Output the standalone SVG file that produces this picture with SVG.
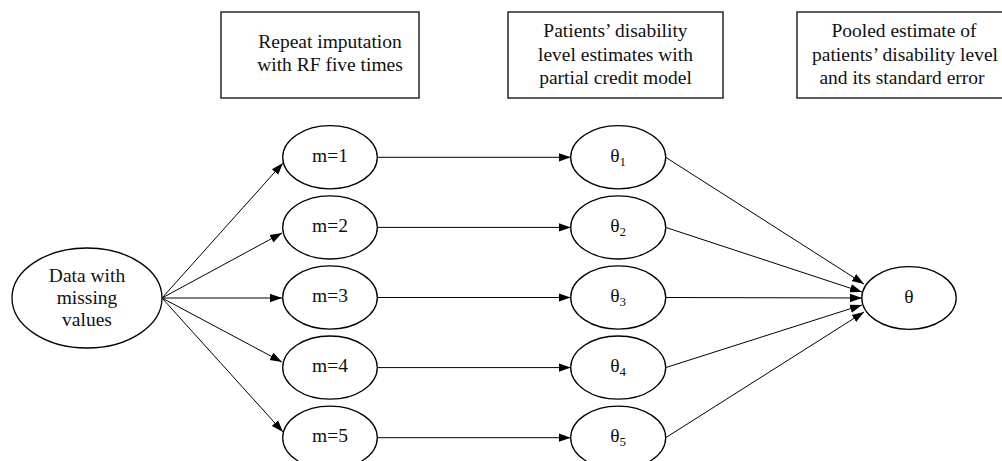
<svg xmlns="http://www.w3.org/2000/svg" width="1002" height="461" viewBox="0 0 1002 461">
<style>
.box{fill:#fff;stroke:#333;stroke-width:1.6}
.node{fill:#fff;stroke:#000;stroke-width:1.3}
.t{font-family:"Liberation Serif","Times New Roman",serif;font-size:19.5px;fill:#111;text-anchor:middle}
.sub{font-size:13px}
.edge{fill:none;stroke:#000;stroke-width:1}
</style>
<defs>
<marker id="ah" markerUnits="userSpaceOnUse" markerWidth="13" markerHeight="10" refX="12" refY="5" orient="auto">
<path d="M0,0.8 L12,5 L0,9.2 z" fill="#000"/>
</marker>
</defs>
<rect width="1002" height="461" fill="#fff"/>
<g id="header1"><rect class="box" x="221" y="12" width="198" height="86"/>
<text class="t" x="330" y="48">Repeat imputation</text><text class="t" x="330" y="71">with RF five times</text></g>
<g id="header2"><rect class="box" x="508" y="12" width="215" height="86"/>
<text class="t" x="615.5" y="37">Patients’ disability</text><text class="t" x="615.5" y="60.5">level estimates with</text><text class="t" x="615.5" y="84">partial credit model</text></g>
<g id="header3"><rect class="box" x="797" y="12" width="215" height="86"/>
<text class="t" x="904" y="37">Pooled estimate of</text><text class="t" x="905" y="60.5">patients’ disability level</text><text class="t" x="902" y="84">and its standard error</text></g>
<g id="connectors">
<line class="edge" x1="162" y1="298" x2="283" y2="163" marker-end="url(#ah)"/>
<line class="edge" x1="162" y1="298" x2="282" y2="233" marker-end="url(#ah)"/>
<line class="edge" x1="162" y1="298" x2="282" y2="298" marker-end="url(#ah)"/>
<line class="edge" x1="162" y1="298" x2="282" y2="362" marker-end="url(#ah)"/>
<line class="edge" x1="162" y1="298" x2="283" y2="432" marker-end="url(#ah)"/>
<line class="edge" x1="377.3" y1="157.3" x2="570.7" y2="157.3" marker-end="url(#ah)"/>
<line class="edge" x1="377.3" y1="227.4" x2="570.7" y2="227.4" marker-end="url(#ah)"/>
<line class="edge" x1="377.3" y1="297.5" x2="570.7" y2="297.5" marker-end="url(#ah)"/>
<line class="edge" x1="377.3" y1="367.6" x2="570.7" y2="367.6" marker-end="url(#ah)"/>
<line class="edge" x1="377.3" y1="437.7" x2="570.7" y2="437.7" marker-end="url(#ah)"/>
<line class="edge" x1="665.7" y1="157.3" x2="864" y2="284" marker-end="url(#ah)"/>
<line class="edge" x1="665.7" y1="227.4" x2="862" y2="292" marker-end="url(#ah)"/>
<line class="edge" x1="665.7" y1="297.5" x2="862" y2="298" marker-end="url(#ah)"/>
<line class="edge" x1="665.7" y1="367.6" x2="862" y2="305" marker-end="url(#ah)"/>
<line class="edge" x1="665.7" y1="437.7" x2="864" y2="312" marker-end="url(#ah)"/>
</g>
<g id="data"><ellipse class="node" cx="87" cy="298" rx="75" ry="50"/>
<text class="t" x="87" y="282">Data with</text><text class="t" x="87" y="304">missing</text><text class="t" x="87" y="326">values</text></g>
<g id="m1"><ellipse class="node" cx="330" cy="157.3" rx="47.3" ry="31.6"/><text class="t" x="330" y="161.5">m=1</text></g>
<g id="m2"><ellipse class="node" cx="330" cy="227.4" rx="47.3" ry="31.6"/><text class="t" x="330" y="231.6">m=2</text></g>
<g id="m3"><ellipse class="node" cx="330" cy="297.5" rx="47.3" ry="31.6"/><text class="t" x="330" y="301.7">m=3</text></g>
<g id="m4"><ellipse class="node" cx="330" cy="367.6" rx="47.3" ry="31.6"/><text class="t" x="330" y="371.8">m=4</text></g>
<g id="m5"><ellipse class="node" cx="330" cy="437.7" rx="47.3" ry="31.6"/><text class="t" x="330" y="441.9">m=5</text></g>
<g id="theta1"><ellipse class="node" cx="618.2" cy="157.3" rx="47.5" ry="31.6"/><text class="t" x="618.2" y="161.5">θ<tspan class="sub" dy="4">1</tspan></text></g>
<g id="theta2"><ellipse class="node" cx="618.2" cy="227.4" rx="47.5" ry="31.6"/><text class="t" x="618.2" y="231.6">θ<tspan class="sub" dy="4">2</tspan></text></g>
<g id="theta3"><ellipse class="node" cx="618.2" cy="297.5" rx="47.5" ry="31.6"/><text class="t" x="618.2" y="301.7">θ<tspan class="sub" dy="4">3</tspan></text></g>
<g id="theta4"><ellipse class="node" cx="618.2" cy="367.6" rx="47.5" ry="31.6"/><text class="t" x="618.2" y="371.8">θ<tspan class="sub" dy="4">4</tspan></text></g>
<g id="theta5"><ellipse class="node" cx="618.2" cy="437.7" rx="47.5" ry="31.6"/><text class="t" x="618.2" y="441.9">θ<tspan class="sub" dy="4">5</tspan></text></g>
<g id="theta"><ellipse class="node" cx="909" cy="298" rx="47.2" ry="31.3"/><text class="t" x="909" y="303">θ</text></g>
</svg>
